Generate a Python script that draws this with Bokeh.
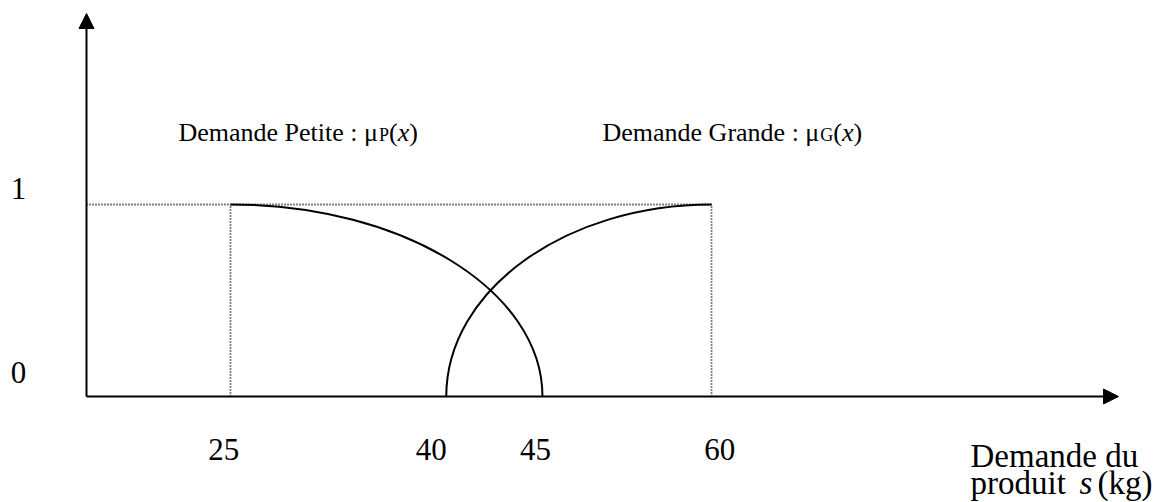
from bokeh.plotting import figure
from bokeh.models import Range1d, Arrow, NormalHead
from bokeh.core.properties import value
from bokeh.embed import file_html
from bokeh.resources import INLINE

# ---- data ----
petite_x = [25.0, 47.7]      # start (mu=1) and end (mu=0) of "Demande Petite"
grande_x = [40.7, 60.0]      # start (mu=0) and end (mu=1) of "Demande Grande"
mu_levels = [0, 1]
mu_labels = ["0", "1"]
tick_labels = ["25", "40", "45", "60"]
tick_label_x = [24.5, 39.6, 47.2, 60.6]

FONT = value("Liberation Serif")
K = 0.5523  # cubic bezier constant for a quarter ellipse

W, H = 1156, 502
PXU = 481 / 35.0   # pixels per x unit
PYU = 192.0        # pixels per y unit
X0 = 25 - 230 / PXU
X1 = X0 + W / PXU
Y1 = 396 / PYU
Y0 = Y1 - H / PYU
TSHIFT = 11  # text baseline correction (px)

def dx(px):
    return X0 + px / PXU

def dy(py):
    return Y1 - py / PYU

def ty(py):
    return dy(py - TSHIFT)

p = figure(width=W, height=H, x_range=Range1d(X0, X1), y_range=Range1d(Y0, Y1),
           output_backend="svg", toolbar_location=None, min_border=0,
           x_axis_type=None, y_axis_type=None)
p.grid.visible = False
p.outline_line_color = None
p.background_fill_color = "white"
p.border_fill_color = "white"

x_axis0 = dx(86)
top = mu_levels[1]

# dotted guide lines
dot = dict(line_color="black", line_width=1.8, line_dash="1 2")
p.line([x_axis0, grande_x[1]], [top, top], **dot)
p.line([petite_x[0], petite_x[0]], [0, top], **dot)
p.line([grande_x[1], grande_x[1]], [0, top], **dot)

# membership curves (quarter ellipses)
a = petite_x[1] - petite_x[0]
p.bezier(x0=[petite_x[0]], y0=[top], x1=[petite_x[1]], y1=[0],
         cx0=[petite_x[0] + K * a], cy0=[top], cx1=[petite_x[1]], cy1=[K * top],
         line_color="black", line_width=2)
b = grande_x[1] - grande_x[0]
p.bezier(x0=[grande_x[0]], y0=[0], x1=[grande_x[1]], y1=[top],
         cx0=[grande_x[0]], cy0=[K * top], cx1=[grande_x[1] - K * b], cy1=[top],
         line_color="black", line_width=2)

# axes with arrows
p.add_layout(Arrow(end=NormalHead(size=15, fill_color="black", line_color="black", line_width=1),
                   x_start=x_axis0, y_start=0, x_end=dx(1118), y_end=0,
                   line_color="black", line_width=2))
p.add_layout(Arrow(end=NormalHead(size=15, fill_color="black", line_color="black", line_width=1),
                   x_start=x_axis0, y_start=0, x_end=x_axis0, y_end=dy(13),
                   line_color="black", line_width=2))

txt = dict(text_font=FONT, text_baseline="alphabetic", text_color="black")

# y labels
p.text(x=[dx(18)] * 2, y=[ty(383), ty(199)], text=mu_labels,
       text_font_size="31px", text_align="center", **txt)

# x tick labels
p.text(x=tick_label_x, y=[ty(460)] * len(tick_labels), text=tick_labels,
       text_font_size="31px", text_align="center", **txt)

# axis title
p.text(x=[dx(970), dx(970)], y=[ty(466), ty(493)], text=["Demande du", "produit"],
       text_font_size="33px", **txt)
p.text(x=[dx(1079)], y=[ty(493)], text=["s"], text_font_style="italic",
       text_font_size="33px", **txt)
p.text(x=[dx(1097)], y=[ty(493)], text=["(kg)"],
       text_font_size="33px", **txt)

# curve labels
def curve_label(x_start, main, sub):
    fs = 26
    w_main = {"P": 7.714, "G": 8.379}[sub] * fs
    w_sub = {"P": 0.556, "G": 0.722}[sub] * 18
    bl = 142.5
    p.text(x=[dx(x_start)], y=[ty(bl)], text=[main], text_font_size="26px", **txt)
    xs = x_start + w_main
    p.text(x=[dx(xs)], y=[ty(bl + 3)], text=[sub], text_font_size="18px", **txt)
    xs += w_sub
    p.text(x=[dx(xs)], y=[ty(bl)], text=["("], text_font_size="26px", **txt)
    xs += 0.333 * fs
    p.text(x=[dx(xs)], y=[ty(bl)], text=["x"], text_font_style="italic",
           text_font_size="26px", **txt)
    xs += 0.444 * fs
    p.text(x=[dx(xs)], y=[ty(bl)], text=[")"], text_font_size="26px", **txt)

curve_label(178, "Demande Petite : μ", "P")
curve_label(602, "Demande Grande : μ", "G")

open("out.html", "w").write(file_html(p, INLINE))
